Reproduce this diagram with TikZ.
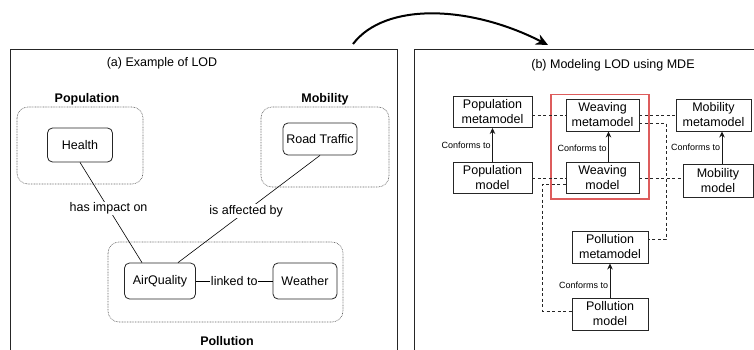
\documentclass[tikz,border=0pt]{standalone}
\usepackage{fontspec}
\setmainfont{Liberation Sans}
\usetikzlibrary{arrows.meta,calc}
\definecolor{redbox}{HTML}{DD5C5C}
\tikzset{
  base/.style={font=\fontsize{12.5}{15}\selectfont},
  rnode/.style={base,draw=black!85,line width=0.8pt,rounded corners=5pt,inner sep=0pt,align=center},
  mnode/.style={base,draw=black!85,line width=0.9pt,inner sep=0pt,align=center},
  grp/.style={draw=black!60,line width=0.6pt,dash pattern=on 0.8pt off 0.8pt,rounded corners=11pt},
  grplabel/.style={font=\fontsize{12.5}{15}\selectfont\bfseries},
  panel/.style={draw=black!85,line width=0.9pt},
  rel/.style={draw=black,line width=0.6pt},
  rellabel/.style={base,fill=white,inner sep=1pt},
  conf/.style={draw=black!90,line width=0.9pt,-{Stealth[length=6pt,width=5.5pt]}},
  conflabel/.style={font=\fontsize{9}{10}\selectfont,anchor=east,inner sep=1.5pt},
  weave/.style={draw=black!85,line width=0.7pt,dash pattern=on 3pt off 2.5pt},
  hilite/.style={draw=redbox,line width=1.2pt},
}
\begin{document}
\begin{tikzpicture}[x=1pt,y=-1pt]
\useasboundingbox (0,0) rectangle (754,350);
\clip (0,0) rectangle (754,350);
\fill[white] (0,0) rectangle (754,350);

% panels
\draw[panel] (10.5,49.5) rectangle (397,380);
\draw[panel] (414,49.5) rectangle (800,380);
\node[base] (ta) at (162,63) {(a) Example of LOD};
\node[base] (tb) at (613,65) {(b) Modeling LOD using MDE};

% big curved arrow
\coordinate (arrS) at (353,44);
\coordinate (arrE) at (548,45);
\draw[line width=2pt,-{Stealth[length=12pt,width=11pt]}] (arrS) .. controls (385,2) and (470,5) .. (arrE);

% ---------- panel (a)
\draw[grp] (17,107) rectangle (143,184);
\draw[grp] (261,107) rectangle (389,187);
\draw[grp] (108,242) rectangle (343,322);
\node[grplabel] (gpop) at (87,99) {Population};
\node[grplabel] (gmob) at (325,99) {Mobility};
\node[grplabel] (gpol) at (227,341) {Pollution};

\node[rnode,minimum width=65pt,minimum height=34pt] (health) at (80,145) {Health};
\node[rnode,minimum width=74pt,minimum height=32pt] (road) at (320,139) {Road Traffic};
\node[rnode,minimum width=71pt,minimum height=36pt] (aq) at (160,281) {AirQuality};
\node[rnode,minimum width=64pt,minimum height=36pt] (weather) at (305,281) {Weather};

\coordinate (aqL) at ([xshift=-18pt]aq.north);
\coordinate (aqR) at ([xshift=18pt]aq.north);
\draw[rel] (health.south) -- node[rellabel,pos=0.46] {has impact on} (aqL);
\draw[rel] (road.south) -- node[rellabel,pos=0.52] {is affected by} (aqR);
\draw[rel] (aq.east) -- node[rellabel,inner sep=0.5pt] {linked to} (weather.west);

% ---------- panel (b)
\draw[hilite] (551,94.5) rectangle (649,199);

\node[mnode,minimum width=79pt,minimum height=31pt] (popmm) at (492.5,112) {Population\\metamodel};
\node[mnode,minimum width=79pt,minimum height=31pt] (popm) at (492.5,178) {Population\\model};
\node[mnode,minimum width=73pt,minimum height=32pt] (wmm) at (602.5,115) {Weaving\\metamodel};
\node[mnode,minimum width=73pt,minimum height=31pt] (wm) at (602.5,178) {Weaving\\model};
\node[mnode,minimum width=75pt,minimum height=32pt] (mobmm) at (713.5,115) {Mobility\\metamodel};
\node[mnode,minimum width=70pt,minimum height=33pt] (mobm) at (718,180.5) {Mobility\\model};
\node[mnode,minimum width=76pt,minimum height=32pt] (pollmm) at (610,247) {Pollution\\metamodel};
\node[mnode,minimum width=76pt,minimum height=32pt] (pollm) at (610,314) {Pollution\\model};

% conforms-to arrows
\draw[conf] (popm.north) -- node[conflabel,pos=0.5] {Conforms to} (popmm.south);
\coordinate (wA) at ([xshift=6pt]wm.north);
\draw[conf] (wA) -- node[conflabel,pos=0.45] {Conforms to} (wA |- wmm.south);
\coordinate (mA) at ([xshift=4pt]mobm.north);
\draw[conf] (mA) -- node[conflabel,pos=0.5] {Conforms to} (mA |- mobmm.south);
\draw[conf] (pollm.north) -- node[conflabel,pos=0.37] {Conforms to} (pollmm.south);

% weaving links
\draw[weave] (popmm.east |- wmm.west) -- (wmm.west);
\draw[weave] (wmm.east) -- (mobmm.west);
\draw[weave] (popm.east) -- (wm.west);
\draw[weave] (wm.east) -- (wm.east -| mobm.west);
\coordinate (w1) at ([yshift=-8pt]wmm.east);
\coordinate (p1) at ([yshift=8pt]pollmm.east);
\draw[weave] (w1) -- ($(w1)+(27,0)$) |- (p1);
\coordinate (w2) at ([yshift=-6pt]wm.west);
\coordinate (p2) at ([yshift=3pt]pollm.west);
\draw[weave] (w2) -- ($(w2)+(-23,0)$) |- (p2);
\end{tikzpicture}
\end{document}
